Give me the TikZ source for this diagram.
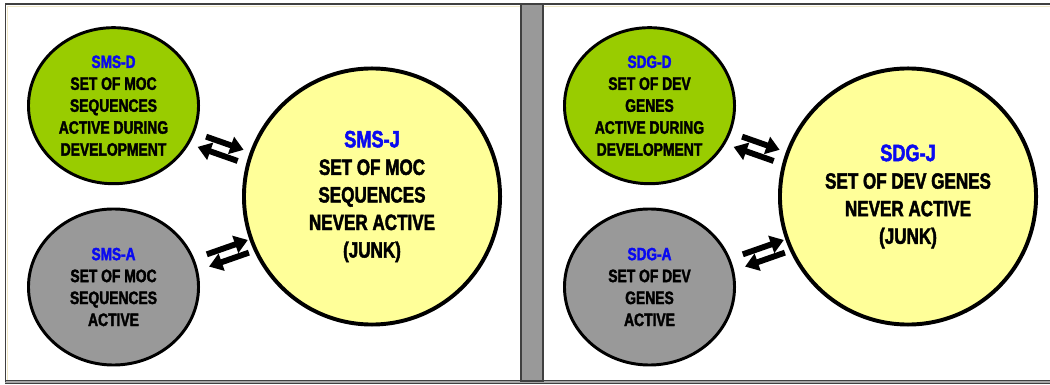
\documentclass[tikz,border=0pt]{standalone}
\usepackage{fontspec}
\newfontfamily\narrowfont{Liberation Sans}[FakeStretch=0.77,BoldFeatures={FakeBold=2}]
\usetikzlibrary{shapes.geometric,arrows.meta}
\definecolor{devgreen}{RGB}{153,204,0}
\definecolor{actgray}{RGB}{153,153,153}
\definecolor{junkyellow}{RGB}{255,255,153}
\definecolor{tagblue}{RGB}{10,10,240}
\definecolor{framegray}{RGB}{64,64,64}
\definecolor{framecream}{RGB}{240,232,200}
\newcommand{\settag}[2]{{\fontsize{#1}{15.6}\selectfont\color{tagblue}#2}}
\tikzset{
  setbox/.style={draw=black,line width=2.1pt,inner sep=0pt,align=center,
    font=\narrowfont\bfseries\fontsize{12.8}{15.6}\selectfont},
  devset/.style={setbox,ellipse,fill=devgreen,minimum width=4.25cm,minimum height=3.9cm},
  actset/.style={setbox,ellipse,fill=actgray,minimum width=4.25cm,minimum height=3.9cm},
  junkset/.style={setbox,circle,fill=junkyellow,line width=2.8pt,minimum size=6.4cm,
    font=\narrowfont\bfseries\fontsize{15.75}{19.6}\selectfont},
  flow/.style={line width=4.2pt,-{Triangle[length=9.5pt,width=12.5pt]}}
}
\begin{document}
\begin{tikzpicture}[x=0.025cm,y=-0.025cm]
          \useasboundingbox (0,0) rectangle (1050,385);
          \fill[gray!70] (5,380.5) rectangle (1050,383.8);
          \draw[framegray,line width=0.8pt] (5,380.5) -- (1050,380.5);
          \draw[framegray,line width=0.8pt] (5,383.8) -- (1050,383.8);
          \draw[framecream,line width=0.8pt] (7.5,6.5) -- (1050,6.5);
          \draw[framecream,line width=0.8pt] (7.5,6.5) -- (7.5,380);
          \draw[framegray,line width=1.8pt] (5,4) -- (1050,4);
          \draw[framegray,line width=1.2pt] (5.5,4) -- (5.5,382);
          \filldraw[fill=actgray,draw=framegray,line width=0.9pt] (521,4) rectangle (543,381);
          \node[devset] (smsD) at (113.5,105.7) {\settag{12.6}{SMS-D}\\SET OF MOC\\SEQUENCES\\ACTIVE DURING\\DEVELOPMENT};
          \node[actset] (smsA) at (113.5,287) {\settag{12.6}{SMS-A}\\SET OF MOC\\SEQUENCES\\ACTIVE};
          \node[junkset] (smsJ) at (372,196.5) {\settag{16.8}{SMS-J}\\SET OF MOC\\SEQUENCES\\NEVER ACTIVE\\(JUNK)};
          \draw[flow,shorten <=8.5pt,shorten >=4.7pt,transform canvas={shift={(0.5,-1.4)}}] (smsD) -- (smsJ);
          \draw[flow,shorten <=6.1pt,shorten >=5.2pt,transform canvas={shift={(-3.6,10.4)}}] (smsJ) -- (smsD);
          \draw[flow,shorten <=9.4pt,shorten >=1.1pt] (smsA) -- (smsJ);
          \draw[flow,shorten <=3.4pt,shorten >=8pt,transform canvas={shift={(4.1,11.6)}}] (smsJ) -- (smsA);
          \node[devset] (sdgD) at (649.5,105.7) {\settag{12.6}{SDG-D}\\SET OF DEV\\GENES\\ACTIVE DURING\\DEVELOPMENT};
          \node[actset] (sdgA) at (649.5,287) {\settag{12.6}{SDG-A}\\SET OF DEV\\GENES\\ACTIVE};
          \node[junkset] (sdgJ) at (908,196.5) {\settag{16.8}{SDG-J}\\SET OF DEV GENES\\NEVER ACTIVE\\(JUNK)};
          \draw[flow,shorten <=8.5pt,shorten >=4.7pt,transform canvas={shift={(0.5,-1.4)}}] (sdgD) -- (sdgJ);
          \draw[flow,shorten <=6.1pt,shorten >=5.2pt,transform canvas={shift={(-3.6,10.4)}}] (sdgJ) -- (sdgD);
          \draw[flow,shorten <=9.4pt,shorten >=1.1pt] (sdgA) -- (sdgJ);
          \draw[flow,shorten <=3.4pt,shorten >=8pt,transform canvas={shift={(4.1,11.6)}}] (sdgJ) -- (sdgA);
\end{tikzpicture}
\end{document}
